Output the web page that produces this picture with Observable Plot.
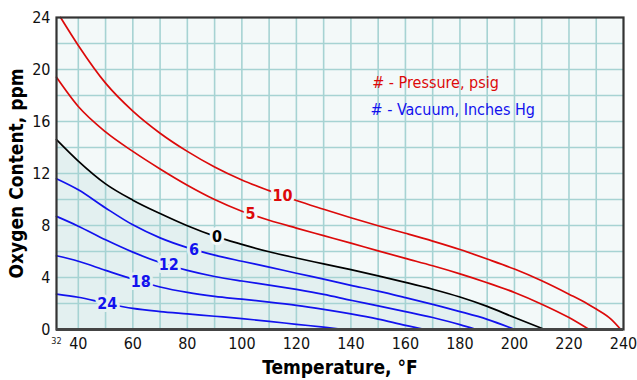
<!DOCTYPE html>
<html><head><meta charset="utf-8">
<script src="https://cdn.jsdelivr.net/npm/d3@7"></script>
<script src="https://cdn.jsdelivr.net/npm/@observablehq/plot@0.6"></script>
<style>
body{margin:0;background:#fff}
#chart{width:637px;height:380px}
</style>
</head><body><div id="chart"></div>
<script>
// ---- data ----
const xTicks = [40, 60, 80, 100, 120, 140, 160, 180, 200, 220, 240];
const yTicks = [0, 4, 8, 12, 16, 20, 24];
const xMinLabel = ["32"];
const xGrid = [40, 50, 60, 70, 80, 90, 100, 110, 120, 130, 140, 150, 160, 170, 180, 190, 200, 210, 220, 230];
const yGrid = [2, 4, 6, 8, 10, 12, 14, 16, 18, 20, 22];

// Pressure 10 psig
const p10Temp = [33.5, 40, 50, 60, 70, 80, 90, 100, 110, 120, 130, 140, 150, 160, 170, 180, 190, 200, 210, 220, 227, 230, 235.4, 239];
const p10O2   = [24.0, 21.85, 18.95, 16.8, 15.1, 13.7, 12.5, 11.5, 10.68, 9.92, 9.25, 8.6, 7.98, 7.4, 6.8, 6.15, 5.42, 4.65, 3.75, 2.72, 1.95, 1.57, 0.8, 0];
// Pressure 5 psig
const p5Temp = [32, 40, 50, 60, 70, 80, 90, 100, 110, 120, 130, 140, 150, 160, 170, 180, 190, 200, 210, 220, 227.4];
const p5O2   = [19.4, 17.15, 15.2, 13.7, 12.35, 11.1, 10.0, 9.1, 8.4, 7.8, 7.22, 6.64, 6.05, 5.47, 4.9, 4.28, 3.6, 2.85, 1.95, 0.92, 0];
// 0 (atmospheric)
const z0Temp = [32, 40, 50, 60, 70, 80, 90, 100, 110, 120, 130, 140, 150, 160, 170, 180, 190, 200, 211.1];
const z0O2   = [14.6, 12.95, 11.2, 9.95, 8.92, 7.98, 7.18, 6.55, 5.98, 5.5, 5.05, 4.6, 4.13, 3.63, 3.1, 2.5, 1.78, 0.92, 0];
// Vacuum 6 in Hg
const v6Temp = [32, 40, 50, 60, 70, 80, 90, 100, 110, 120, 130, 140, 150, 160, 170, 180, 190, 200.2];
const v6O2   = [11.6, 10.75, 9.35, 8.05, 7.05, 6.3, 5.72, 5.25, 4.8, 4.33, 3.87, 3.4, 2.95, 2.45, 1.93, 1.38, 0.78, 0];
// Vacuum 12 in Hg
const v12Temp = [32, 40, 50, 60, 70, 80, 90, 100, 110, 120, 130, 140, 150, 160, 170, 180, 186];
const v12O2   = [8.7, 7.95, 6.9, 5.95, 5.15, 4.55, 4.08, 3.73, 3.42, 3.08, 2.7, 2.25, 1.82, 1.38, 0.92, 0.38, 0];
// Vacuum 18 in Hg
const v18Temp = [32, 40, 50, 60, 70, 80, 90, 100, 110, 120, 130, 140, 150, 160, 167.4];
const v18O2   = [5.67, 5.25, 4.55, 3.87, 3.27, 2.85, 2.55, 2.33, 2.11, 1.86, 1.55, 1.2, 0.8, 0.32, 0];
// Vacuum 24 in Hg
const v24Temp = [32, 40, 50, 60, 70, 80, 90, 100, 110, 120, 130, 137.5];
const v24O2   = [2.72, 2.48, 2.02, 1.62, 1.38, 1.2, 1.02, 0.84, 0.63, 0.4, 0.18, 0];

const curveNames  = ["10", "5", "0", "6", "12", "18", "24"];
const curveKinds  = ["pressure", "pressure", "zero", "vacuum", "vacuum", "vacuum", "vacuum"];
const labelTemps  = [114.9, 103.2, 90.9, 82.4, 73.2, 62.9, 50.6];
const legendTexts = ["# - Pressure, psig", "# - Vacuum, Inches Hg"];

// ---- build tables ----
const temps = [p10Temp, p5Temp, z0Temp, v6Temp, v12Temp, v18Temp, v24Temp];
const vals  = [p10O2, p5O2, z0O2, v6O2, v12O2, v18O2, v24O2];
const rows = [];
curveNames.forEach((n, i) => temps[i].forEach((t, j) => rows.push({name: n, kind: curveKinds[i], temp: t, o2: vals[i][j]})));
const zeroRows = rows.filter(r => r.name === "0");

function interp(ts, vs, t) {
  for (let k = 0; k < ts.length - 1; k++) {
    if (t >= ts[k] && t <= ts[k + 1]) {
      const f = (t - ts[k]) / (ts[k + 1] - ts[k]);
      return vs[k] + f * (vs[k + 1] - vs[k]);
    }
  }
  return vs[vs.length - 1];
}
const labels = curveNames.map((n, i) => ({name: n, kind: curveKinds[i], temp: labelTemps[i], o2: interp(temps[i], vals[i], labelTemps[i])}));

const kindColor = {pressure: "#dc0a0a", zero: "#000000", vacuum: "#1212ee"};
const kindHalo  = {pressure: "#f3f9f9", zero: "#f3f9f9", vacuum: "#e3f0f0"};
const FONT = "'DejaVu Sans Condensed', 'DejaVu Sans', sans-serif";

const chart = Plot.plot({
  width: 637,
  height: 380,
  marginLeft: 56,
  marginRight: 14,
  marginTop: 17,
  marginBottom: 51,
  style: {fontFamily: FONT, background: "#ffffff", color: "#111"},
  x: {domain: [32, 240]},
  y: {domain: [0, 24]},
  marks: [
    Plot.frame({fill: "#f3f9f9", stroke: null}),
    Plot.areaY(zeroRows, {x: "temp", y: "o2", fill: "#e3f0f0", curve: "monotone-x"}),
    Plot.gridX({ticks: xGrid, stroke: "#a6d3d3", strokeOpacity: 1, strokeWidth: 1.6}),
    Plot.gridY({ticks: yGrid, stroke: "#a6d3d3", strokeOpacity: 1, strokeWidth: 1.6}),
    Plot.line(rows, {x: "temp", y: "o2", z: "name", stroke: d => kindColor[d.kind], strokeWidth: 1.7, curve: "monotone-x"}),
    Plot.text(labels, {x: "temp", y: "o2", text: "name", fill: d => kindColor[d.kind], stroke: d => kindHalo[d.kind], strokeWidth: 6, paintOrder: "stroke", fontWeight: "bold", fontSize: 16}),
    Plot.text(legendTexts.slice(0, 1), {x: 147.8, y: 18.95, text: d => d, textAnchor: "start", fill: kindColor.pressure, fontSize: 16, fontWeight: 500}),
    Plot.text(legendTexts.slice(1, 2), {x: 147.2, y: 16.9, text: d => d, textAnchor: "start", fill: kindColor.vacuum, fontSize: 16, fontWeight: 500}),
    Plot.frame({stroke: "#333", strokeWidth: 2.2}),
    Plot.ruleY([0], {stroke: "#444", strokeWidth: 3}),
    Plot.axisX({ticks: xTicks, tickSize: 0, tickPadding: 8, fontSize: 16, label: null}),
    Plot.axisY({ticks: yTicks, tickSize: 0, tickPadding: 6, fontSize: 16, label: null}),
    Plot.text(xMinLabel, {x: 32, y: 0, text: d => d, dy: 12, dx: 0, fontSize: 9, fill: "#222"}),
    Plot.text(["Temperature, °F"], {frameAnchor: "bottom", textAnchor: "middle", lineAnchor: "middle", dy: 38, fontSize: 19, fontWeight: "bold", fill: "#000"}),
    Plot.text(["Oxygen Content, ppm"], {frameAnchor: "left", textAnchor: "middle", lineAnchor: "middle", dx: -40, rotate: -90, fontSize: 19, fontWeight: "bold", fill: "#000"})
  ]
});
document.getElementById("chart").appendChild(chart);
</script>
</body></html>
